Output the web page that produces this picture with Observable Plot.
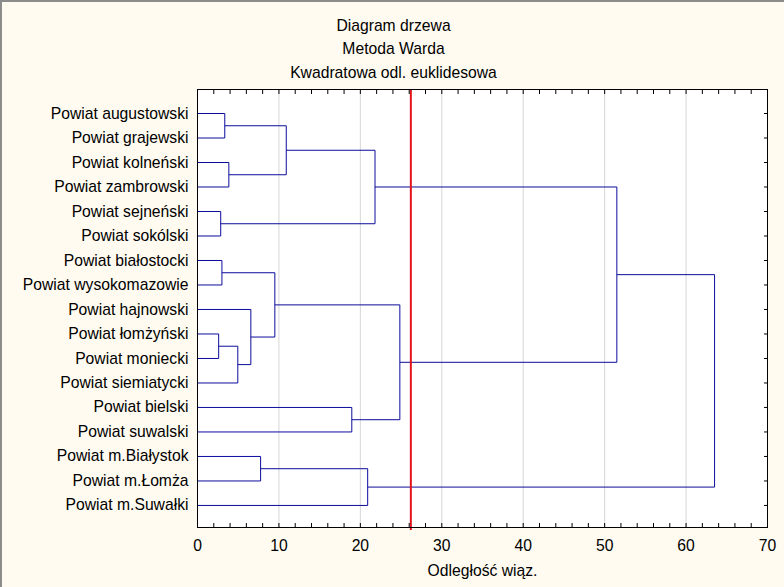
<!DOCTYPE html>
<html><head><meta charset="utf-8">
<script src="https://cdn.jsdelivr.net/npm/d3@7"></script>
<script src="https://cdn.jsdelivr.net/npm/@observablehq/plot@0.6"></script>
<style>
html,body{margin:0;padding:0;background:#fffbf0;}
#chart svg{display:block; box-shadow: inset 2px 2px 0 #8c8c8c;}
</style></head><body><div id="chart"></div>
<script>
const leaves = [
  "Powiat augustowski", "Powiat grajewski", "Powiat kolneński", "Powiat zambrowski",
  "Powiat sejneński", "Powiat sokólski", "Powiat białostocki", "Powiat wysokomazowie",
  "Powiat hajnowski", "Powiat łomżyński", "Powiat moniecki", "Powiat siemiatycki",
  "Powiat bielski", "Powiat suwalski", "Powiat m.Białystok", "Powiat m.Łomża", "Powiat m.Suwałki"
];
// merges: node index = leaves.length + merge order
const mergeA = [0, 2, 17, 4, 19, 6, 9, 23, 8, 22, 12, 26, 21, 14, 30, 29];
const mergeB = [1, 3, 18, 5, 20, 7, 10, 11, 24, 25, 13, 27, 28, 15, 16, 31];
const mergeHeight = [3.35, 3.85, 10.9, 2.85, 21.8, 3.0, 2.6, 4.95, 6.55, 9.5, 18.95, 24.85, 51.5, 7.75, 20.9, 63.5];
const cutoff = 26.2;
const xTicks = [0, 10, 20, 30, 40, 50, 60, 70];
const titleLines = ["Diagram drzewa", "Metoda Warda", "Kwadratowa odl. euklidesowa"];
const xLabel = "Odległość wiąz.";

const n = leaves.length;
const pos = leaves.map((_, i) => i);
const hgt = leaves.map(() => 0);
const segs = [];
mergeA.forEach((a, k) => {
  const b = mergeB[k], h = mergeHeight[k];
  segs.push({x1: hgt[a], y1: pos[a], x2: h, y2: pos[a]});
  segs.push({x1: hgt[b], y1: pos[b], x2: h, y2: pos[b]});
  segs.push({x1: h, y1: pos[a], x2: h, y2: pos[b]});
  pos.push((pos[a] + pos[b]) / 2);
  hgt.push(h);
});

const minor = d3.range(0, 71, 2);
const titleDy = [-70, -46.5, -22.5];
const fs = 15.7;

const plot = Plot.plot({
  width: 784, height: 587,
  marginLeft: 197, marginRight: 17, marginTop: 89, marginBottom: 60,
  style: {background: "#fffbf0", fontFamily: "'Liberation Sans', Arial, sans-serif", fontSize: fs + "px", color: "#000", overflow: "visible"},
  x: {domain: [0, 70]},
  y: {domain: [-0.98, 16.9], reverse: true},
  marks: [
    Plot.frame({fill: "white"}),
    Plot.ruleX(xTicks.slice(1, -1), {stroke: "#d6d6d6"}),
    Plot.link(segs, {x1: "x1", y1: "y1", x2: "x2", y2: "y2", stroke: "#0c0c9c", strokeWidth: 1}),
    Plot.ruleX([cutoff], {stroke: "#e3121b", strokeWidth: 2, insetBottom: -3}),
    Plot.axisX({anchor: "bottom", ticks: minor, tickSize: -4, tickFormat: () => "", label: null}),
    Plot.axisX({anchor: "top", ticks: minor, tickSize: -4, tickFormat: () => "", label: null}),
    Plot.axisX({anchor: "bottom", ticks: xTicks, tickSize: 0, tickPadding: 12, label: null, fontSize: fs}),
    Plot.axisY({anchor: "left", ticks: d3.range(n), tickSize: 0, tickPadding: 9, tickFormat: i => leaves[i], label: null, fontSize: fs}),
    Plot.axisY({anchor: "right", ticks: d3.range(n), tickSize: -4, tickFormat: () => "", label: null}),
    Plot.frame({stroke: "black"}),
    Plot.text([xLabel], {text: d => d, frameAnchor: "bottom", dy: 48, fontSize: fs}),
    ...titleLines.map((t, i) => Plot.text([t], {text: d => d, frameAnchor: "top", dx: -89, dy: titleDy[i], fontSize: fs}))
  ]
});
document.getElementById("chart").appendChild(plot);
</script></body></html>
